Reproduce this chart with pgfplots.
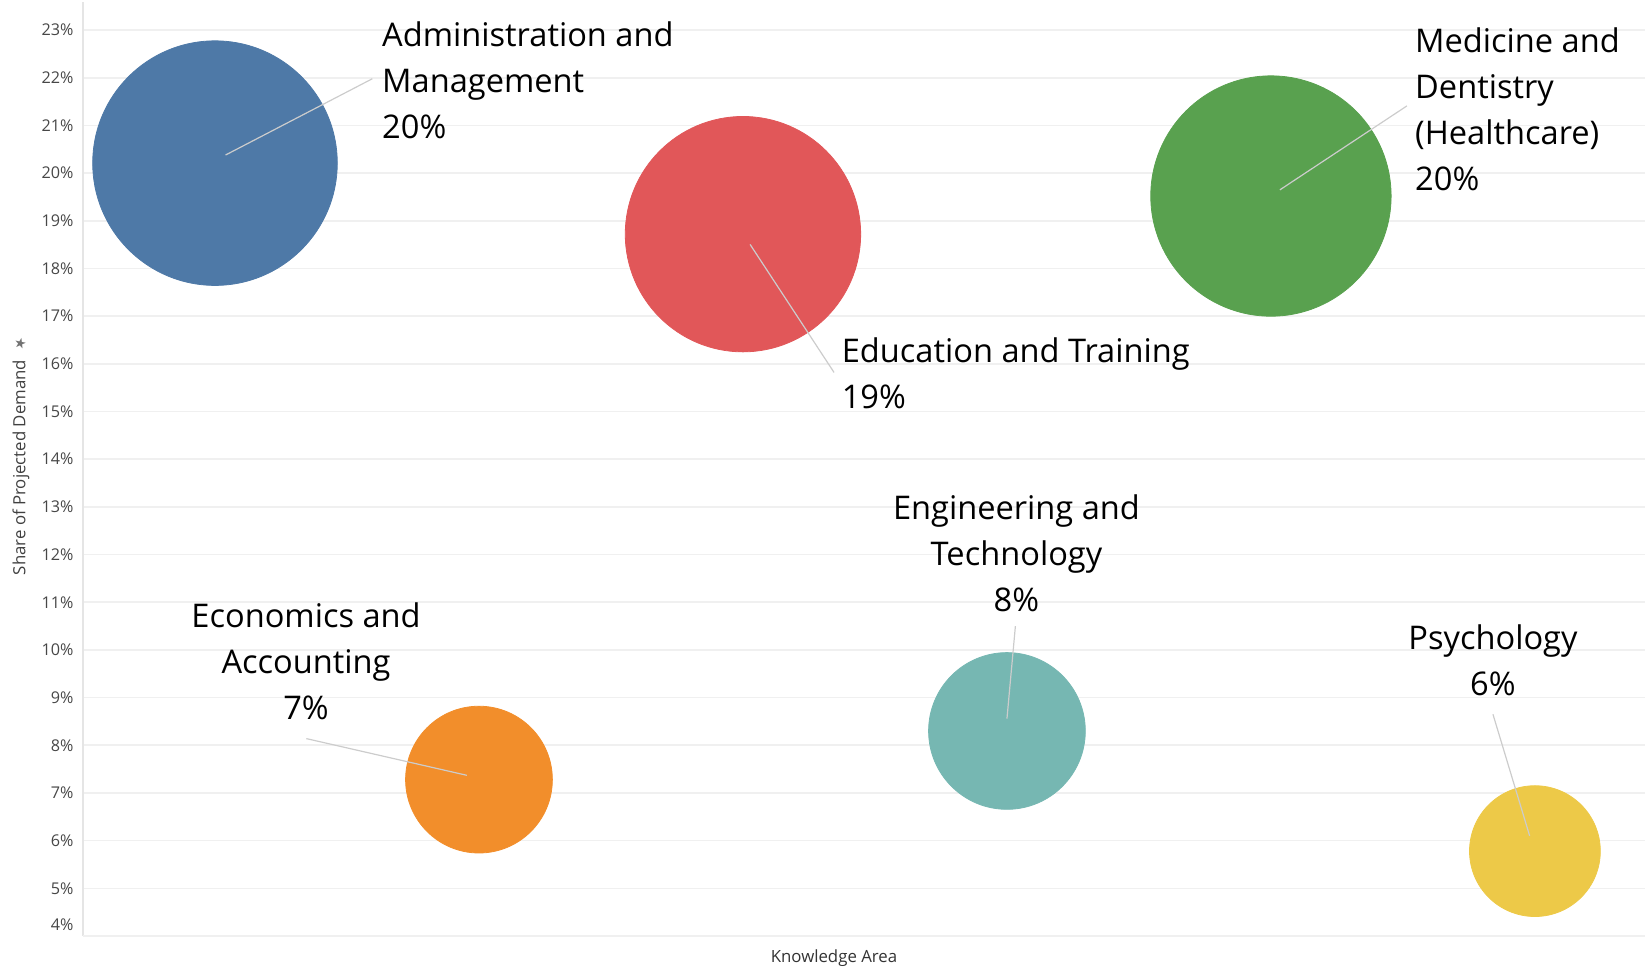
\documentclass[border=0pt]{standalone}
\usepackage{fontspec}
\setmainfont{Open Sans}
\newfontfamily\dejavu{DejaVu Sans}
\usepackage{pgfplots}
\usepackage{pgfplotstable}
\pgfplotsset{compat=1.18}
\definecolor{tblue}{HTML}{4E79A7}
\definecolor{torange}{HTML}{F28E2B}
\definecolor{tred}{HTML}{E15759}
\definecolor{tteal}{HTML}{76B7B2}
\definecolor{tgreen}{HTML}{59A14F}
\definecolor{tyellow}{HTML}{EDC948}
\newcommand\biglab{\fontsize{16.3}{23}\selectfont}
\newcommand\smalllab{\fontsize{8.1}{10}\selectfont}
\newcommand\axlab{\fontsize{8.4}{10}\selectfont}
\pgfplotstableread{
x y cls
0 20.21 adm
1 7.28 eco
2 18.72 edu
3 8.30 eng
4 19.52 med
5 5.78 psy
}\bubbles
\begin{document}
\begin{tikzpicture}
\useasboundingbox (-41.5pt,-15.5pt) rectangle (781pt,468pt);
\begin{axis}[
  at={(0,0)}, anchor=south west,
  scale only axis, width=781pt, height=467pt,
  xmin=-0.5, xmax=5.417, ymin=4, ymax=23.59,
  axis x line*=bottom, axis y line*=left,
  axis line style={draw=black!10, line width=0.8pt, -},
  xtick=\empty,
  ytick={5,...,23},
  extra y ticks={4},
  extra y tick style={yticklabel style={yshift=5.5pt}},
  yticklabel={\pgfmathprintnumber{\tick}\%},
  ymajorgrids, grid style={draw=black!6, line width=0.8pt},
  major tick length=0pt,
  tick label style={font=\smalllab, text=black!72},
  yticklabel style={xshift=-1.2pt},
  /pgf/number format/assume math mode=true,
]
\addplot[scatter, only marks, mark=*, point meta=explicit symbolic,
  scatter/classes={adm={tblue}, eco={torange}, edu={tred}, eng={tteal}, med={tgreen}, psy={tyellow}},
  visualization depends on={13.6*sqrt(\thisrow{y}) \as \rad},
  scatter/@pre marker code/.append style={/tikz/mark size=\rad pt}]
  table[x=x, y=y, meta=cls]{\bubbles};

\coordinate (a1) at (axis cs:0.040,20.38); \coordinate (a2) at (axis cs:0.596,21.98);
\node[anchor=west, align=left, inner sep=0, font=\biglab] at (axis cs:0.632,21.94) {Administration and\\Management\\20\%};

\coordinate (b1) at (axis cs:2.027,18.505); \coordinate (b2) at (axis cs:2.345,15.82);
\node[anchor=west, align=left, inner sep=0, font=\biglab] at (axis cs:2.373,15.80) {Education and Training\\19\%};

\coordinate (c1) at (axis cs:4.034,19.65); \coordinate (c2) at (axis cs:4.515,21.41);
\node[anchor=west, align=left, inner sep=0, font=\biglab] at (axis cs:4.545,21.34) {Medicine and\\Dentistry\\(Healthcare)\\20\%};

\coordinate (d1) at (axis cs:0.954,7.37); \coordinate (d2) at (axis cs:0.346,8.14);
\node[anchor=center, align=center, inner sep=0, font=\biglab] at (axis cs:0.345,9.77) {Economics and\\Accounting\\7\%};

\coordinate (e1) at (axis cs:3.0,8.56); \coordinate (e2) at (axis cs:3.032,10.50);
\node[anchor=center, align=center, inner sep=0, font=\biglab] at (axis cs:3.036,12.03) {Engineering and\\Technology\\8\%};

\coordinate (f1) at (axis cs:4.980,6.10); \coordinate (f2) at (axis cs:4.841,8.65);
\node[anchor=center, align=center, inner sep=0, font=\biglab] at (axis cs:4.841,9.79) {Psychology\\6\%};
\end{axis}
\foreach \p in {a,b,c,d,e,f}{\draw[black!20, line width=0.6pt] (\p1) -- (\p2);}
\node[rotate=90, font=\axlab, text=black!75, inner sep=0] at (-31pt,234.25pt) {Share of Projected Demand};
\node[rotate=60, font=\dejavu\fontsize{7}{8}\selectfont, text=black!55, inner sep=0] at (-31.5pt,296pt) {★};
\node[font=\axlab, text=black!80, inner sep=0] at (375.5pt,-11pt) {Knowledge Area};
\end{tikzpicture}
\end{document}
